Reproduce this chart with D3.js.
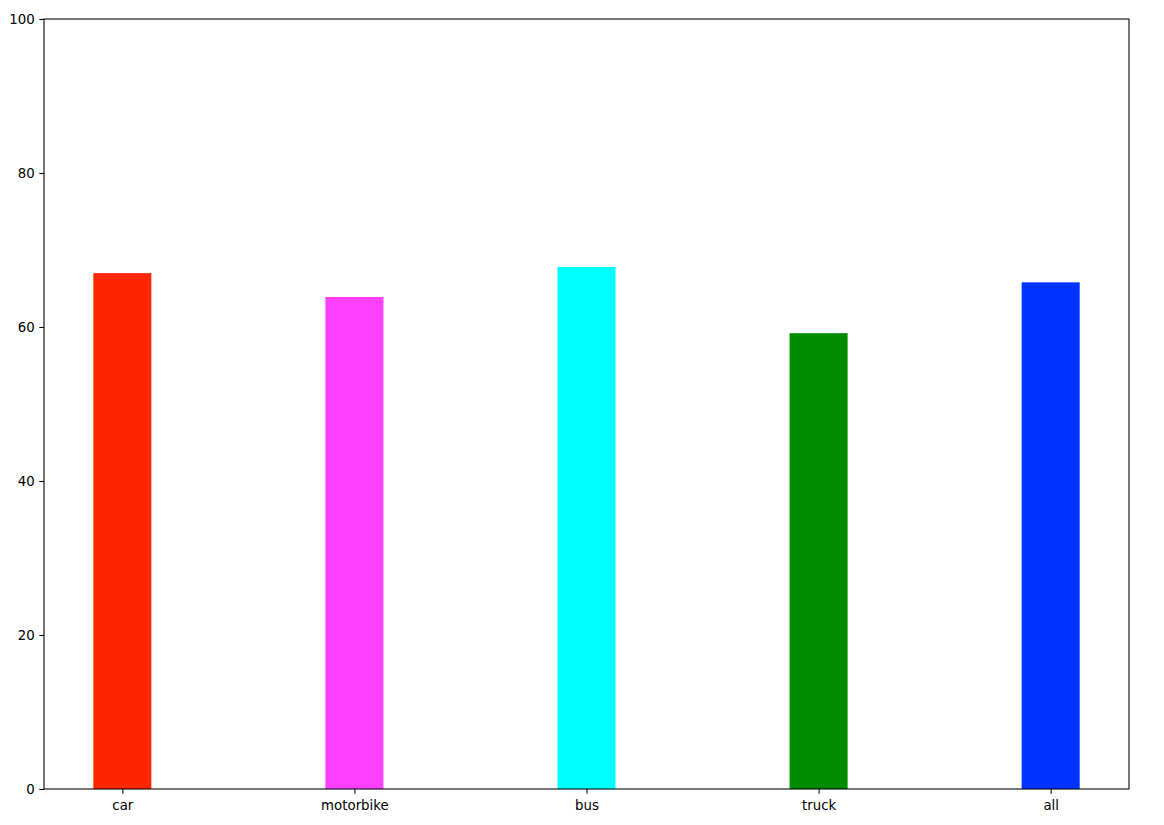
<!DOCTYPE html>
<html><head><meta charset="utf-8">
<script src="https://cdn.jsdelivr.net/npm/d3@7"></script>
<style>body{margin:0;background:#fff;} text{font-family:"DejaVu Sans",sans-serif;}</style>
</head><body>
<script>
const categories = ["car","motorbike","bus","truck","all"];
const values = [67.0, 63.9, 67.8, 59.2, 65.8];
const colors = ["#ff2600","#ff40ff","#00ffff","#008c00","#0033ff"];
const yTicks = [0,20,40,60,80,100];

const W=1164,H=825, L=44, R=1129, T=19, B=789;
const svg=d3.select("body").append("svg").attr("width",W).attr("height",H);
const x=d3.scaleLinear().domain([-0.3375,4.3375]).range([L,R]);
const y=d3.scaleLinear().domain([0,100]).range([B,T]);
const bw=0.25;
svg.selectAll("rect.bar").data(values).enter().append("rect")
 .attr("x",(d,i)=>x(i-bw/2)).attr("width",(d,i)=>x(i+bw/2)-x(i-bw/2))
 .attr("y",d=>y(d)).attr("height",d=>y(0)-y(d))
 .attr("fill",(d,i)=>colors[i]);
const fs="13.33px";
const xa=svg.append("g").attr("transform",`translate(0,${B})`)
 .call(d3.axisBottom(x).tickValues(d3.range(categories.length)).tickFormat(i=>categories[i]).tickSize(4.67).tickPadding(4.67));
const ya=svg.append("g").attr("transform",`translate(${L},0)`)
 .call(d3.axisLeft(y).tickValues(yTicks).tickSize(4.67).tickPadding(4.67));
[xa,ya].forEach(a=>{a.select(".domain").remove();a.selectAll("text").attr("font-size",fs).attr("font-family","DejaVu Sans").attr("fill","#000");a.selectAll("line").attr("stroke","#000").attr("stroke-width",1.07);});
xa.selectAll("text").attr("dy","0.9em");
svg.append("rect").attr("x",L).attr("y",T).attr("width",R-L).attr("height",B-T)
 .attr("fill","none").attr("stroke","#000").attr("stroke-width",1.07);
</script>
</body></html>
